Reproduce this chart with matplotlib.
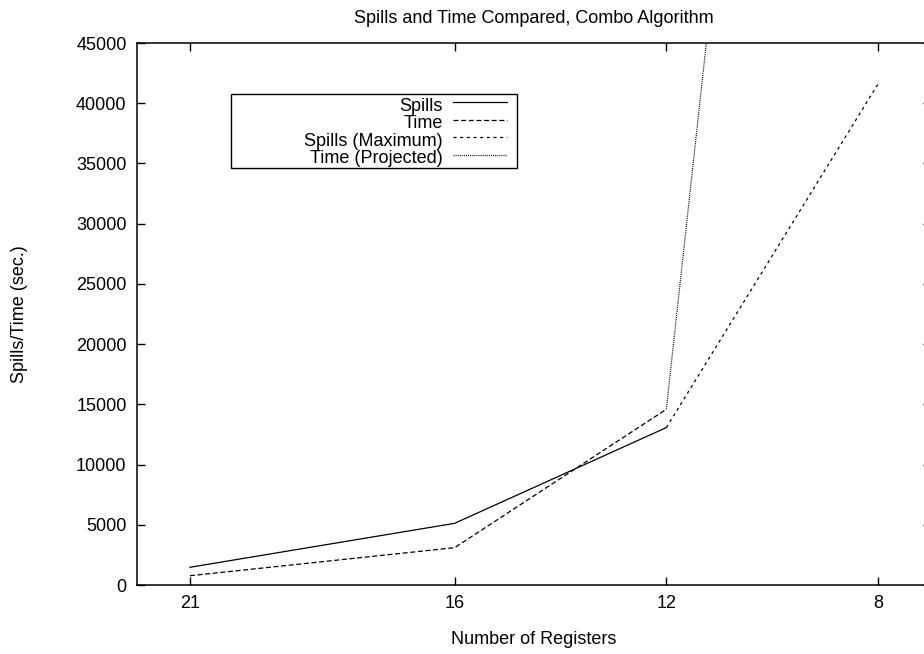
import matplotlib
matplotlib.use("Agg")
import matplotlib.pyplot as plt
from matplotlib.lines import Line2D
from matplotlib.patches import Rectangle

plt.rcParams['font.family'] = ['Liberation Sans', 'DejaVu Sans']
plt.rcParams['lines.scale_dashes'] = False

# data
registers = [21, 16, 12]
spills = [1470, 5120, 13070]
time_sec = [770, 3100, 14590]
max_regs = [12, 8]
spills_max = [13070, 41600]
proj_regs = [12, 8]
time_proj = [14590, 175500]

xticks = [21, 16, 12, 8]
yticks = list(range(0, 45001, 5000))
labels = ['Spills', 'Time', 'Spills (Maximum)', 'Time (Projected)']
styles = ['-', (0, (3.6, 1.9)), (0, (2.2, 2.6)), (0, (0.7, 0.8))]

W, H = 924, 654
fig = plt.figure(figsize=(W / 100, H / 100), dpi=100)
# axes box in pixels: x 137..931, y 43..585
ax = fig.add_axes([137 / W, (H - 585) / H, 794 / W, 542 / H])

series = [(registers, spills), (registers, time_sec),
          (max_regs, spills_max), (proj_regs, time_proj)]
for (xs, ys), lab, ls in zip(series, labels, styles):
    ax.plot(xs, ys, color='black', lw=0.9, linestyle=ls, label=lab)

ax.set_xlim(22, 7)
ax.set_ylim(0, 45000)
ax.set_xticks(xticks)
ax.set_yticks(yticks)
ax.tick_params(direction='in', length=5.8, width=1.0, top=True, right=True,
               labelsize=13, pad=7.5, colors='black')
for sp in ax.spines.values():
    sp.set_linewidth(1.1)

ax.set_title('Spills and Time Compared, Combo Algorithm', fontsize=13,
             y=(585 - 22.7) / 542, pad=0)
ax.set_xlabel('Number of Registers', fontsize=13, va='center')
ax.xaxis.set_label_coords(0.5, (585 - 640) / 542)
ax.set_ylabel('Spills/Time (sec.)', fontsize=13, va='center')
ax.yaxis.set_label_coords((19 - 137) / 794, 0.5)

# gnuplot-style key: right-justified text, sample to the right
def fx(px):
    return px / W

def fy(py):
    return 1 - py / H

fig.add_artist(Rectangle((fx(231), fy(168)), fx(517) - fx(231), (168 - 94) / H,
                         transform=fig.transFigure, facecolor='white',
                         edgecolor='black', lw=1.0, zorder=5))
for i, (lab, ls) in enumerate(zip(labels, styles)):
    fig.text(fx(443), fy(111 + 17.45 * i), lab, ha='right', va='baseline',
             fontsize=13, zorder=6)
    yy = fy(102 + 17.6 * i)
    fig.add_artist(Line2D([fx(453), fx(507)], [yy, yy], transform=fig.transFigure,
                          color='black', lw=0.9, linestyle=ls, zorder=6))

fig.savefig('out.png', dpi=100)
